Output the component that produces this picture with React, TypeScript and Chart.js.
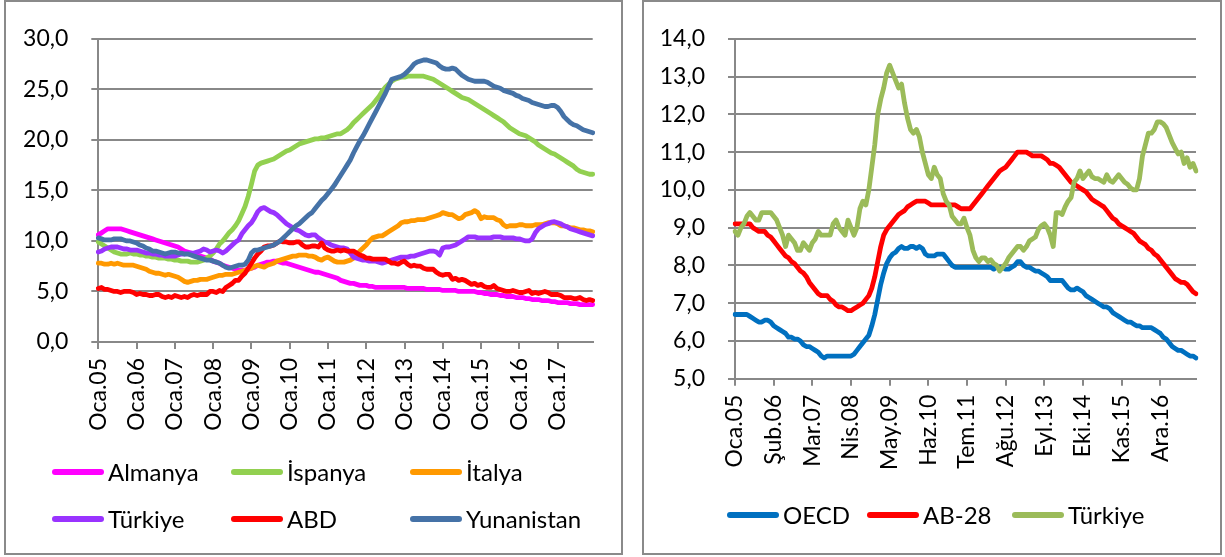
import React, { useEffect, useRef } from "react";
import { Chart, registerables } from "chart.js";

Chart.register(...registerables);

const MONTHS = ["Oca", "Şub", "Mar", "Nis", "May", "Haz", "Tem", "Ağu", "Eyl", "Eki", "Kas", "Ara"];
const YEARS = ["05", "06", "07", "08", "09", "10", "11", "12", "13", "14", "15", "16", "17"];
const CATEGORIES = YEARS.flatMap((y) => MONTHS.map((m) => `${m}.${y}`));

// Left chart (0-30)
const ALMANYA = [
  10.6, 10.8, 11.0, 11.2, 11.2, 11.2, 11.2, 11.2, 11.1, 11.0, 10.9, 10.8,
  10.7, 10.6, 10.5, 10.4, 10.3, 10.2, 10.1, 10.0, 9.9, 9.8, 9.7, 9.6,
  9.5, 9.4, 9.2, 9.0, 8.9, 8.8, 8.7, 8.6, 8.5, 8.4, 8.3, 8.2,
  8.0, 7.9, 7.8, 7.6, 7.5, 7.4, 7.3, 7.2, 7.1, 7.1, 7.1, 7.2,
  7.3, 7.4, 7.6, 7.7, 7.8, 7.9, 7.9, 8.0, 8.0, 7.9, 7.8, 7.8,
  7.7, 7.6, 7.5, 7.4, 7.3, 7.2, 7.1, 7.0, 6.9, 6.9, 6.8, 6.7,
  6.6, 6.5, 6.4, 6.3, 6.1, 6.0, 5.9, 5.8, 5.8, 5.7, 5.6, 5.6,
  5.6, 5.5, 5.5, 5.4, 5.4, 5.4, 5.4, 5.4, 5.4, 5.4, 5.4, 5.4,
  5.4, 5.3, 5.3, 5.3, 5.3, 5.3, 5.3, 5.2, 5.2, 5.2, 5.2, 5.2,
  5.1, 5.1, 5.1, 5.1, 5.1, 5.0, 5.0, 5.0, 5.0, 5.0, 5.0, 4.9,
  4.9, 4.8, 4.8, 4.7, 4.7, 4.7, 4.6, 4.6, 4.5, 4.5, 4.5, 4.4,
  4.4, 4.4, 4.3, 4.3, 4.2, 4.2, 4.2, 4.1, 4.1, 4.1, 4.0, 4.0,
  3.9, 3.9, 3.9, 3.9, 3.8, 3.8, 3.8, 3.7, 3.7, 3.7, 3.7, 3.7,
];
const ISPANYA = [
  9.9, 9.7, 9.5, 9.3, 9.1, 8.9, 8.8, 8.7, 8.7, 8.7, 8.8, 8.7,
  8.7, 8.6, 8.6, 8.5, 8.5, 8.4, 8.4, 8.3, 8.3, 8.3, 8.2, 8.2,
  8.1, 8.1, 8.0, 8.0, 8.0, 7.9, 7.9, 7.9, 8.0, 8.1, 8.3, 8.5,
  8.8, 9.2, 9.7, 10.0, 10.4, 10.8, 11.1, 11.5, 12.0, 12.7, 13.4, 14.4,
  15.6, 16.9, 17.5, 17.7, 17.8, 17.9, 18.0, 18.1, 18.3, 18.5, 18.7, 18.9,
  19.0, 19.2, 19.4, 19.6, 19.7, 19.8, 19.9, 20.0, 20.1, 20.1, 20.2, 20.2,
  20.3, 20.4, 20.5, 20.6, 20.6, 20.8, 21.0, 21.3, 21.7, 22.0, 22.3, 22.6,
  22.9, 23.2, 23.5, 23.9, 24.3, 24.8, 25.2, 25.5, 25.8, 26.0, 26.1, 26.2,
  26.2, 26.3, 26.3, 26.3, 26.3, 26.3, 26.3, 26.2, 26.1, 26.0, 25.8, 25.6,
  25.4, 25.2, 25.0, 24.8, 24.6, 24.4, 24.2, 24.1, 24.0, 23.8, 23.6, 23.4,
  23.2, 23.0, 22.8, 22.6, 22.4, 22.2, 22.0, 21.8, 21.5, 21.2, 21.0, 20.8,
  20.6, 20.5, 20.4, 20.2, 20.0, 19.8, 19.5, 19.3, 19.1, 18.9, 18.7, 18.6,
  18.4, 18.2, 18.0, 17.8, 17.6, 17.4, 17.1, 16.9, 16.8, 16.7, 16.6, 16.6,
];
const ITALYA = [
  7.8, 7.8, 7.7, 7.7, 7.8, 7.7, 7.8, 7.7, 7.6, 7.6, 7.6, 7.6,
  7.5, 7.4, 7.3, 7.2, 7.0, 6.9, 6.8, 6.8, 6.7, 6.6, 6.7, 6.6,
  6.5, 6.4, 6.2, 6.0, 5.9, 6.0, 6.1, 6.1, 6.2, 6.2, 6.2, 6.3,
  6.4, 6.5, 6.6, 6.6, 6.7, 6.7, 6.7, 6.8, 6.9, 7.0, 7.1, 7.2,
  7.3, 7.5, 7.6, 7.5, 7.4, 7.6, 7.7, 7.8, 8.0, 8.1, 8.2, 8.3,
  8.4, 8.5, 8.5, 8.6, 8.6, 8.6, 8.5, 8.5, 8.4, 8.2, 8.1, 8.3,
  8.4, 8.2, 8.0, 7.9, 7.9, 7.9, 8.0, 8.1, 8.3, 8.6, 9.0, 9.3,
  9.6, 10.0, 10.3, 10.4, 10.5, 10.5, 10.7, 10.9, 11.1, 11.3, 11.5, 11.8,
  11.9, 11.9, 12.0, 12.0, 12.1, 12.1, 12.1, 12.2, 12.3, 12.4, 12.5, 12.6,
  12.8, 12.7, 12.6, 12.6, 12.4, 12.2, 12.3, 12.6, 12.7, 12.8, 13.0, 12.8,
  12.2, 12.4, 12.3, 12.3, 12.3, 12.1, 12.0, 11.6, 11.4, 11.5, 11.5, 11.5,
  11.6, 11.6, 11.5, 11.5, 11.5, 11.6, 11.6, 11.6, 11.7, 11.8, 11.8, 11.8,
  11.7, 11.5, 11.5, 11.4, 11.3, 11.3, 11.2, 11.1, 11.1, 11.0, 11.0, 10.9,
];
const TURKIYE_L = [
  8.9, 9.0, 9.2, 9.3, 9.4, 9.4, 9.4, 9.3, 9.2, 9.2, 9.1, 9.1,
  9.1, 9.0, 8.9, 8.8, 8.8, 8.7, 8.7, 8.6, 8.6, 8.5, 8.5, 8.5,
  8.5, 8.6, 8.7, 8.7, 8.8, 8.8, 8.8, 8.9, 9.0, 9.2, 9.1, 8.9,
  9.0, 9.1, 9.0, 8.8, 9.0, 9.3, 9.6, 9.9, 10.1, 10.7, 11.1, 11.5,
  11.8, 12.3, 12.9, 13.2, 13.3, 13.1, 12.9, 12.8, 12.6, 12.3, 12.0, 11.7,
  11.5, 11.3, 11.1, 11.0, 10.8, 10.6, 10.5, 10.6, 10.6, 10.3, 10.1, 9.9,
  9.8, 9.6, 9.5, 9.4, 9.3, 9.3, 9.2, 8.8, 8.4, 8.3, 8.2, 8.1,
  8.1, 8.0, 8.0, 8.0, 7.9, 7.8, 7.9, 8.0, 8.1, 8.2, 8.3, 8.4,
  8.4, 8.4, 8.5, 8.5, 8.6, 8.7, 8.8, 8.9, 9.0, 9.0, 8.9, 8.6,
  9.3, 9.4, 9.4, 9.5, 9.6, 9.8, 10.0, 10.2, 10.4, 10.4, 10.4, 10.3,
  10.3, 10.3, 10.3, 10.3, 10.4, 10.4, 10.4, 10.3, 10.3, 10.3, 10.3, 10.2,
  10.2, 10.1, 10.0, 10.0, 10.2, 10.8, 11.2, 11.4, 11.6, 11.7, 11.85, 11.9,
  11.8, 11.7, 11.5, 11.4, 11.2, 11.1, 11.0, 10.9, 10.8, 10.7, 10.6, 10.5,
];
const ABD = [
  5.3, 5.4, 5.2, 5.2, 5.1, 5.0, 5.0, 4.9, 5.0, 5.0, 5.0, 4.9,
  4.7, 4.8, 4.7, 4.7, 4.6, 4.6, 4.7, 4.7, 4.5, 4.4, 4.5, 4.4,
  4.6, 4.5, 4.4, 4.5, 4.4, 4.6, 4.7, 4.6, 4.7, 4.7, 4.7, 5.0,
  5.0, 4.9, 5.1, 5.0, 5.4, 5.6, 5.8, 6.1, 6.1, 6.5, 6.8, 7.3,
  7.8, 8.3, 8.7, 9.0, 9.4, 9.5, 9.5, 9.6, 9.8, 10.0, 9.9, 9.9,
  9.8, 9.8, 9.9, 9.9, 9.6, 9.4, 9.4, 9.5, 9.5, 9.4, 9.8, 9.3,
  9.1, 9.0, 9.0, 9.1, 9.0, 9.1, 9.0, 9.0, 9.0, 8.8, 8.6, 8.5,
  8.3, 8.3, 8.2, 8.2, 8.2, 8.2, 8.2, 8.0, 7.8, 7.8, 7.7, 7.9,
  8.0, 7.7, 7.5, 7.6, 7.5, 7.5, 7.3, 7.2, 7.2, 7.2, 6.9, 6.7,
  6.6, 6.7, 6.7, 6.2, 6.3, 6.1, 6.2, 6.1, 5.9, 5.7, 5.8, 5.6,
  5.7, 5.5, 5.4, 5.4, 5.6, 5.3, 5.2, 5.1, 5.0, 5.0, 5.1, 5.0,
  4.9, 4.9, 5.0, 5.1, 4.8, 4.9, 4.8, 4.9, 5.0, 4.9, 4.7, 4.7,
  4.7, 4.6, 4.4, 4.4, 4.4, 4.3, 4.3, 4.4, 4.2, 4.1, 4.2, 4.1,
];
const YUNANISTAN = [
  10.3, 10.2, 10.1, 10.1, 10.1, 10.2, 10.2, 10.2, 10.1, 10.0, 10.0, 9.9,
  9.8, 9.6, 9.5, 9.3, 9.2, 9.0, 9.0, 8.9, 8.8, 8.7, 8.8, 8.9,
  8.9, 8.8, 8.8, 8.7, 8.7, 8.6, 8.5, 8.4, 8.3, 8.2, 8.1, 8.1,
  8.0, 7.9, 7.8, 7.6, 7.4, 7.3, 7.4, 7.5, 7.6, 7.6, 7.7, 8.1,
  8.8, 9.1, 9.1, 9.2, 9.3, 9.4, 9.5, 9.6, 9.8, 10.0, 10.3, 10.6,
  10.9, 11.2, 11.5, 11.7, 12.0, 12.3, 12.6, 12.8, 13.2, 13.6, 14.0, 14.3,
  14.7, 15.1, 15.5, 16.0, 16.5, 17.0, 17.5, 18.0, 18.7, 19.3, 19.9, 20.4,
  21.0, 21.6, 22.2, 22.8, 23.4, 24.0, 24.6, 25.3, 26.0, 26.1, 26.2, 26.3,
  26.5, 26.8, 27.1, 27.5, 27.7, 27.8, 27.9, 27.9, 27.8, 27.7, 27.6, 27.3,
  27.1, 27.0, 27.0, 27.1, 27.0, 26.7, 26.4, 26.2, 26.0, 25.9, 25.8, 25.8,
  25.8, 25.8, 25.7, 25.5, 25.3, 25.2, 25.1, 24.9, 24.8, 24.7, 24.6, 24.4,
  24.3, 24.1, 24.0, 23.9, 23.7, 23.6, 23.5, 23.4, 23.3, 23.3, 23.4, 23.4,
  23.2, 22.8, 22.3, 22.0, 21.7, 21.5, 21.4, 21.2, 21.0, 20.9, 20.8, 20.7,
];

// Right chart (5-14)
const OECD = [
  6.7, 6.7, 6.7, 6.7, 6.7, 6.65, 6.6, 6.55, 6.5, 6.5, 6.55, 6.55,
  6.5, 6.4, 6.35, 6.3, 6.25, 6.2, 6.1, 6.1, 6.05, 6.05, 6.0, 5.9,
  5.85, 5.85, 5.8, 5.75, 5.7, 5.6, 5.55, 5.6, 5.6, 5.6, 5.6, 5.6,
  5.6, 5.6, 5.6, 5.6, 5.65, 5.75, 5.85, 5.95, 6.05, 6.15, 6.4, 6.7,
  7.1, 7.5, 7.8, 8.05, 8.2, 8.3, 8.35, 8.45, 8.5, 8.45, 8.45, 8.5,
  8.5, 8.45, 8.5, 8.45, 8.3, 8.25, 8.25, 8.25, 8.3, 8.3, 8.3, 8.2,
  8.1, 8.0, 7.95, 7.95, 7.95, 7.95, 7.95, 7.95, 7.95, 7.95, 7.95, 7.95,
  7.95, 7.95, 7.95, 7.9, 7.95, 7.95, 7.95, 7.9, 7.9, 7.95, 8.0, 8.1,
  8.1, 8.0, 7.95, 7.95, 7.9, 7.85, 7.85, 7.8, 7.75, 7.7, 7.6, 7.6,
  7.6, 7.6, 7.6, 7.5, 7.4, 7.35, 7.35, 7.4, 7.35, 7.3, 7.2, 7.15,
  7.1, 7.05, 7.0, 6.95, 6.9, 6.9, 6.85, 6.75, 6.7, 6.65, 6.6, 6.55,
  6.5, 6.5, 6.45, 6.4, 6.4, 6.35, 6.35, 6.35, 6.35, 6.3, 6.25, 6.2,
  6.1, 6.05, 5.95, 5.85, 5.8, 5.75, 5.75, 5.7, 5.65, 5.6, 5.6, 5.55,
];
const AB28 = [
  9.1, 9.1, 9.1, 9.1, 9.1, 9.1, 9.0, 8.95, 8.9, 8.9, 8.9, 8.8,
  8.75, 8.65, 8.55, 8.45, 8.35, 8.25, 8.2, 8.1, 8.05, 7.95, 7.85, 7.8,
  7.7, 7.55, 7.45, 7.35, 7.25, 7.2, 7.2, 7.2, 7.1, 7.05, 6.95, 6.9,
  6.9, 6.85, 6.8, 6.8, 6.85, 6.9, 6.95, 7.0, 7.1, 7.2, 7.4, 7.7,
  8.1, 8.5, 8.8, 8.95, 9.05, 9.15, 9.25, 9.35, 9.4, 9.45, 9.55, 9.6,
  9.65, 9.7, 9.7, 9.7, 9.7, 9.65, 9.6, 9.6, 9.6, 9.6, 9.6, 9.6,
  9.6, 9.6, 9.6, 9.55, 9.5, 9.5, 9.5, 9.5, 9.6, 9.7, 9.8, 9.9,
  10.0, 10.1, 10.2, 10.3, 10.4, 10.5, 10.55, 10.6, 10.7, 10.8, 10.9, 11.0,
  11.0, 11.0, 11.0, 10.95, 10.9, 10.9, 10.9, 10.9, 10.85, 10.8, 10.7, 10.7,
  10.65, 10.6, 10.5, 10.4, 10.3, 10.2, 10.15, 10.1, 10.05, 10.0, 9.95, 9.85,
  9.75, 9.7, 9.65, 9.6, 9.55, 9.45, 9.35, 9.25, 9.2, 9.1, 9.05, 9.0,
  8.95, 8.9, 8.85, 8.75, 8.65, 8.6, 8.55, 8.45, 8.4, 8.3, 8.25, 8.15,
  8.05, 7.95, 7.85, 7.75, 7.65, 7.6, 7.55, 7.55, 7.5, 7.4, 7.3, 7.25,
];
const TURKIYE_R = [
  8.9, 8.8, 9.0, 9.1, 9.3, 9.4, 9.3, 9.2, 9.2, 9.4, 9.4, 9.4,
  9.4, 9.3, 9.2, 9.0, 8.8, 8.5, 8.8, 8.7, 8.6, 8.4, 8.4, 8.6,
  8.5, 8.4, 8.6, 8.7, 8.9, 8.8, 8.8, 8.8, 8.8, 9.1, 9.2, 9.0,
  8.9, 8.8, 9.2, 9.0, 8.8, 9.0, 9.5, 9.7, 9.6, 10.0, 10.6, 11.2,
  12.0, 12.4, 12.7, 13.1, 13.3, 13.1, 12.9, 12.7, 12.8, 12.3, 11.9, 11.6,
  11.5, 11.6, 11.4, 11.0, 10.7, 10.4, 10.3, 10.6, 10.4, 10.3, 9.9, 9.7,
  9.6, 9.3, 9.2, 9.1, 9.1, 9.25, 9.0, 8.8, 8.4, 8.2, 8.1, 8.2,
  8.2, 8.1, 8.15, 8.05, 8.0, 7.85, 7.95, 8.05, 8.2, 8.3, 8.4, 8.5,
  8.5, 8.4, 8.5, 8.65, 8.7, 8.75, 8.95, 9.05, 9.1, 9.0, 8.8, 8.5,
  9.4, 9.4, 9.35, 9.55, 9.7, 9.8, 10.2, 10.3, 10.5, 10.3, 10.4, 10.5,
  10.35, 10.3, 10.3, 10.25, 10.2, 10.4, 10.25, 10.2, 10.3, 10.4, 10.3, 10.2,
  10.15, 10.05, 10.0, 10.0, 10.3, 10.9, 11.2, 11.5, 11.5, 11.6, 11.8, 11.8,
  11.75, 11.65, 11.45, 11.25, 11.1, 10.95, 11.0, 10.7, 10.85, 10.6, 10.7, 10.5,
];

const GRID = "#888888";
const FONT = "Lato, 'Liberation Sans', sans-serif";

type Series = { label: string; color: string; data: number[] };

const LEFT_SERIES: Series[] = [
  { label: "Almanya", color: "#FF00FF", data: ALMANYA },
  { label: "İspanya", color: "#92D050", data: ISPANYA },
  { label: "İtalya", color: "#FF9900", data: ITALYA },
  { label: "Türkiye", color: "#9933FF", data: TURKIYE_L },
  { label: "ABD", color: "#FF0000", data: ABD },
  { label: "Yunanistan", color: "#4572A7", data: YUNANISTAN },
];
const RIGHT_SERIES: Series[] = [
  { label: "OECD", color: "#0070C0", data: OECD },
  { label: "AB-28", color: "#FF0000", data: AB28 },
  { label: "Türkiye", color: "#9BBB59", data: TURKIYE_R },
];

type ChartProps = {
  left: number;
  top: number;
  width: number;
  height: number;
  series: Series[];
  yMin: number;
  yMax: number;
  yStep: number;
  tickEvery: number;
  yAxisWidth: number;
  padRight: number;
  padTop: number;
  padBottom: number;
  xAxisHeight: number;
};

function LineChart(p: ChartProps) {
  const ref = useRef<HTMLCanvasElement>(null);
  useEffect(() => {
    const chart = new Chart(ref.current as HTMLCanvasElement, {
      type: "line",
      data: {
        labels: CATEGORIES,
        datasets: p.series.map((s, i) => ({
          label: s.label,
          data: s.data,
          borderColor: s.color,
          backgroundColor: s.color,
          borderWidth: 4.8,
          pointRadius: 0,
          pointHoverRadius: 0,
          tension: 0,
          fill: false,
          borderJoinStyle: "round" as const,
          borderCapStyle: "round" as const,
          order: p.series.length - i,
        })),
      },
      options: {
        animation: false,
        responsive: true,
        maintainAspectRatio: false,
        events: [],
        layout: { padding: { top: p.padTop, right: p.padRight, bottom: p.padBottom, left: 0 } },
        plugins: { legend: { display: false }, tooltip: { enabled: false } },
        scales: {
          x: {
            type: "category",
            offset: false,
            afterBuildTicks: (axis: any) => {
              axis.ticks = axis.ticks.filter((t: any) => t.value % p.tickEvery === 0);
            },
            afterFit: (axis: any) => {
              axis.height = p.xAxisHeight;
            },
            grid: {
              display: true,
              drawOnChartArea: false,
              drawTicks: true,
              tickLength: 7,
              color: GRID,
              lineWidth: 2,
            },
            border: { display: true, color: GRID, width: 2 },
            ticks: {
              autoSkip: false,
              minRotation: 90,
              maxRotation: 90,
              padding: 9,
              color: "#000",
              font: { family: FONT, size: 23 },
            },
          },
          y: {
            min: p.yMin,
            max: p.yMax,
            afterFit: (axis: any) => {
              axis.width = p.yAxisWidth;
            },
            grid: { color: GRID, lineWidth: 2, drawTicks: true, tickLength: 7 },
            border: { display: true, color: GRID, width: 2 },
            ticks: {
              stepSize: p.yStep,
              padding: 23,
              color: "#000",
              font: { family: FONT, size: 23 },
              callback: (v: any) => Number(v).toFixed(1).replace(".", ","),
            },
          },
        },
      },
    });
    return () => chart.destroy();
  }, []);
  return (
    <div style={{ position: "absolute", left: p.left, top: p.top, width: p.width, height: p.height }}>
      <canvas ref={ref} />
    </div>
  );
}

type LegendItem = { label: string; color: string; x: number; y: number };

function Legend({ items }: { items: LegendItem[] }) {
  return (
    <>
      {items.map((it, i) => (
        <div
          key={i}
          style={{
            position: "absolute",
            left: it.x,
            top: it.y - 16,
            height: 32,
            display: "flex",
            alignItems: "center",
            whiteSpace: "nowrap",
          }}
        >
          <div style={{ width: 52, height: 6, borderRadius: 3, background: it.color }} />
          <span style={{ marginLeft: 4, fontFamily: FONT, fontSize: 24, color: "#000", lineHeight: "32px" }}>
            {it.label}
          </span>
        </div>
      ))}
    </>
  );
}

const LEFT_LEGEND_X = [52, 231, 410];
const LEFT_LEGEND_Y = [472, 519];
const RIGHT_LEGEND_X = [727, 867, 1012];
const RIGHT_LEGEND_Y = 515;

export default function App() {
  const leftItems: LegendItem[] = LEFT_SERIES.map((s, i) => ({
    label: s.label,
    color: s.color,
    x: LEFT_LEGEND_X[i % 3],
    y: LEFT_LEGEND_Y[Math.floor(i / 3)],
  }));
  const rightItems: LegendItem[] = RIGHT_SERIES.map((s, i) => ({
    label: s.label,
    color: s.color,
    x: RIGHT_LEGEND_X[i],
    y: RIGHT_LEGEND_Y,
  }));
  return (
    <div style={{ position: "fixed", left: 0, top: 0, width: 1225, height: 557, background: "#fff", overflow: "hidden" }}>
      <div
        style={{
          position: "absolute",
          left: 4,
          top: 0,
          width: 619,
          height: 555,
          border: "2px solid #8a8a8a",
          boxSizing: "border-box",
        }}
      />
      <div
        style={{
          position: "absolute",
          left: 642,
          top: 0,
          width: 580,
          height: 555,
          border: "2px solid #8a8a8a",
          boxSizing: "border-box",
        }}
      />
      <LineChart
        left={6}
        top={2}
        width={615}
        height={551}
        series={LEFT_SERIES}
        yMin={0}
        yMax={30}
        yStep={5}
        tickEvery={12}
        yAxisWidth={92.3}
        padRight={28.3}
        padTop={26}
        padBottom={111}
        xAxisHeight={100}
      />
      <LineChart
        left={644}
        top={2}
        width={576}
        height={551}
        series={RIGHT_SERIES}
        yMin={5}
        yMax={14}
        yStep={1}
        tickEvery={13}
        yAxisWidth={91}
        padRight={24}
        padTop={26}
        padBottom={74.3}
        xAxisHeight={100}
      />
      <Legend items={leftItems} />
      <Legend items={rightItems} />
    </div>
  );
}
